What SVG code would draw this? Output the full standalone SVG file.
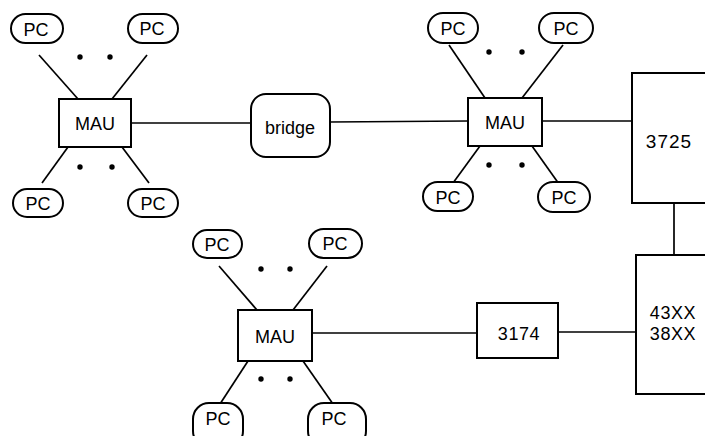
<svg xmlns="http://www.w3.org/2000/svg" width="705" height="436" viewBox="0 0 705 436">
<style>
  .pc{fill:#fff;stroke:#000;stroke-width:2}
  .box{fill:#fff;stroke:#000;stroke-width:2}
  .ln{stroke:#000;stroke-width:1.7;fill:none}
  .t{font-family:"Liberation Sans",Arial,sans-serif;font-size:18px;fill:#000;text-anchor:middle;dominant-baseline:central}
  .d{fill:#000}
</style>
<rect width="705" height="436" fill="#fff"/>
<g id="connectors">
  <line class="ln" x1="39" y1="55" x2="78" y2="99"/>
  <line class="ln" x1="147" y1="55" x2="112" y2="99"/>
  <line class="ln" x1="68" y1="147" x2="42" y2="183"/>
  <line class="ln" x1="122" y1="147" x2="149" y2="183"/>
  <line class="ln" x1="131" y1="123" x2="251" y2="123"/>
  <line class="ln" x1="330" y1="122" x2="468" y2="121"/>
  <line class="ln" x1="449" y1="45" x2="485" y2="98"/>
  <line class="ln" x1="563" y1="45" x2="522" y2="98"/>
  <line class="ln" x1="480" y1="146" x2="453" y2="183"/>
  <line class="ln" x1="532" y1="146" x2="559" y2="184"/>
  <line class="ln" x1="542" y1="121" x2="632" y2="121"/>
  <line class="ln" x1="674" y1="203" x2="674" y2="255"/>
  <line class="ln" x1="219" y1="266" x2="257" y2="310"/>
  <line class="ln" x1="327" y1="266" x2="293" y2="310"/>
  <line class="ln" x1="248" y1="361" x2="220" y2="404"/>
  <line class="ln" x1="303" y1="361" x2="333" y2="404"/>
  <line class="ln" x1="312" y1="333" x2="477" y2="333"/>
  <line class="ln" x1="558" y1="332" x2="636" y2="332"/>
</g>
<g id="dots">
  <circle class="d" cx="80" cy="57" r="2.7"/><circle class="d" cx="110" cy="57" r="2.7"/>
  <circle class="d" cx="80" cy="167" r="2.7"/><circle class="d" cx="112" cy="167" r="2.7"/>
  <circle class="d" cx="489" cy="52" r="2.7"/><circle class="d" cx="522" cy="52" r="2.7"/>
  <circle class="d" cx="489" cy="165" r="2.7"/><circle class="d" cx="522" cy="165" r="2.7"/>
  <circle class="d" cx="261" cy="269" r="2.7"/><circle class="d" cx="290" cy="269" r="2.7"/>
  <circle class="d" cx="261" cy="379" r="2.7"/><circle class="d" cx="290" cy="379" r="2.7"/>
</g>
<g id="pc1"><rect class="pc" x="11" y="14" width="52" height="29" rx="14.5"/><text class="t" x="36" y="30">PC</text></g>
<g id="pc2"><rect class="pc" x="128" y="14" width="50" height="29" rx="14.5"/><text class="t" x="152" y="29">PC</text></g>
<g id="mau1"><rect class="box" x="59" y="99" width="72" height="48"/><text class="t" x="95" y="124">MAU</text></g>
<g id="pc3"><rect class="pc" x="13" y="189" width="50" height="28" rx="14"/><text class="t" x="38" y="204">PC</text></g>
<g id="pc4"><rect class="pc" x="128" y="189" width="50" height="28" rx="14"/><text class="t" x="153" y="204">PC</text></g>
<g id="bridge"><rect class="box" x="251" y="94" width="79" height="63" rx="15"/><text class="t" x="290" y="128">bridge</text></g>
<g id="pc5"><rect class="pc" x="428" y="13" width="50" height="30" rx="15"/><text class="t" x="453" y="29">PC</text></g>
<g id="pc6"><rect class="pc" x="539" y="13" width="54" height="30" rx="15"/><text class="t" x="566" y="29">PC</text></g>
<g id="mau2"><rect class="box" x="468" y="98" width="74" height="48"/><text class="t" x="505" y="123">MAU</text></g>
<g id="pc7"><rect class="pc" x="423" y="182" width="50" height="29" rx="14.5"/><text class="t" x="448" y="198">PC</text></g>
<g id="pc8"><rect class="pc" x="538" y="182" width="52" height="30" rx="15"/><text class="t" x="564" y="198">PC</text></g>
<g id="n3725"><rect class="box" x="632" y="73" width="90" height="130"/><text class="t" x="669" y="141" style="font-size:19px;letter-spacing:1px">3725</text></g>
<g id="pc9"><rect class="pc" x="193" y="230" width="49" height="28" rx="14"/><text class="t" x="217" y="245">PC</text></g>
<g id="pc10"><rect class="pc" x="309" y="229" width="53" height="29" rx="14.5"/><text class="t" x="335" y="244">PC</text></g>
<g id="mau3"><rect class="box" x="238" y="310" width="74" height="51"/><text class="t" x="275" y="337">MAU</text></g>
<g id="pc11"><rect class="pc" x="193" y="403" width="50" height="44" rx="16"/><text class="t" x="218" y="419">PC</text></g>
<g id="pc12"><rect class="pc" x="308" y="403" width="58" height="44" rx="16"/><text class="t" x="334" y="419">PC</text></g>
<g id="n3174"><rect class="box" x="477" y="303" width="81" height="55"/><text class="t" x="519" y="334" style="letter-spacing:0.6px">3174</text></g>
<g id="n43xx"><rect class="box" x="636" y="255" width="90" height="139"/><text class="t" x="673" y="313" style="letter-spacing:0.6px">43XX</text><text class="t" x="673" y="334" style="letter-spacing:0.6px">38XX</text></g>
</svg>
